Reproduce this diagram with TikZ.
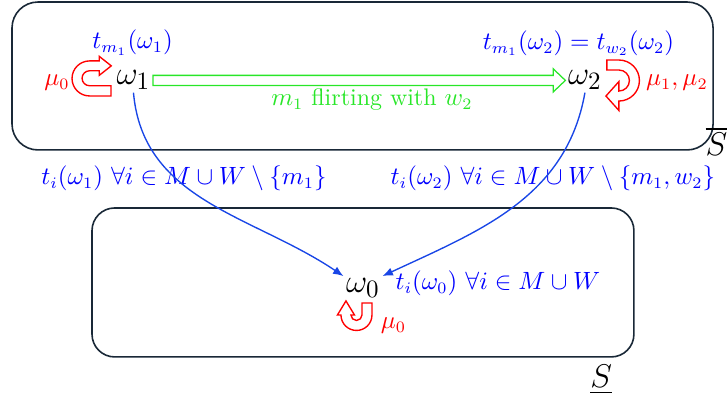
\documentclass[tikz,border=0pt]{standalone}
\usepackage{amsmath,amssymb}
\usetikzlibrary{arrows.meta,calc}
\definecolor{boxline}{RGB}{25,40,55}
\definecolor{linkblue}{RGB}{25,70,230}
\definecolor{flirtgreen}{RGB}{40,230,40}

\begin{document}
\begin{tikzpicture}[every node/.style={font=\fontsize{10.5}{12.6}\selectfont}, >={Latex[length=1.6mm, width=1.3mm]},
	state/.style={font=\fontsize{15.5}{18}\selectfont, inner sep=1pt, anchor=base},
	region/.style={draw=boxline, line width=0.7pt},
	tlabel/.style={blue, anchor=base},
	reach/.style={->, linkblue, semithick},
	flirt/.style={draw=flirtgreen, line width=0.55pt, line join=miter},
	loopy/.style={draw=red, line width=0.6pt, fill=white, line join=miter}]
	\useasboundingbox (0,0) rectangle (11.22,6.164);
	\draw[region, rounded corners=0.4cm] (0.185,3.853) rectangle (10.99,6.133);
	\draw[region, rounded corners=0.35cm] (1.418,0.663) rectangle (9.77,2.959);
	\node[font=\Large, anchor=base east, inner sep=0pt] (sbar) at (11.215,3.76) {$\overline{S}$};
	\node[font=\Large, anchor=base west, inner sep=0pt] (sunder) at (9.09,0.185) {$\underline{S}$};
	\node[state] (w1) at (2.057,4.854) {$\omega_1$};
	\node[state] (w2) at (9.015,4.854) {$\omega_2$};
	\node[state] (w0) at (5.594,1.649) {$\omega_0$};
	\node[tlabel] (t1) at (2.042,5.409) {$t_{m_1}(\omega_1)$};
	\node[tlabel] (t2) at (8.915,5.394) {$t_{m_1}(\omega_2) = t_{w_2}(\omega_2)$};
	\node[tlabel] (r1) at (2.835,3.313) {$t_i(\omega_1)\ \forall i \in M \cup W \setminus \{m_1\}$};
	\node[tlabel] (r2) at (8.522,3.313) {$t_i(\omega_2)\ \forall i \in M \cup W \setminus \{m_1, w_2\}$};
	\node[tlabel, anchor=base west, inner sep=0pt] (t0) at (6.09,1.695) {$t_i(\omega_0)\ \forall i \in M \cup W$};
	\node[flirtgreen, anchor=base] (fl) at (5.733,4.531) {$m_1$ flirting with $w_2$};
	\node[red, anchor=base] (mu1) at (0.878,4.839) {$\mu_0$};
	\node[red, anchor=base] (mu2) at (10.433,4.839) {$\mu_1, \mu_2$};
	\node[red, anchor=base] (mu0) at (6.064,1.094) {$\mu_0$};
	\draw[flirt] ($(w1.east)+(0,-2.2pt)$) -- ++(0,4.4pt) -- ($(w2.west)+(-5.3pt,2.2pt)$) -- ++(0,2.85pt) -- (w2.west) -- ++(-5.3pt,-5.05pt) -- ++(0,2.85pt) -- cycle;
	\draw[reach] (w1.south) to[out=-85, in=146] (w0.north west);
	\draw[reach] (w2.south) to[out=-100, in=25] (w0.north east);
	\draw[loopy] (1.71,4.685) -- ++(-0.33,0) arc[start angle=270, end angle=90, radius=0.27] -- ++(0.15,0) -- ++(0,0.07) -- ++(0.185,-0.146) -- ++(-0.185,-0.146) -- ++(0,0.07) -- ++(-0.15,0) arc[start angle=90, end angle=270, radius=0.115] -- ++(0.33,0) -- cycle;
	\draw[loopy] (9.354,5.239) -- ++(0.185,0) arc[start angle=90, end angle=-90, radius=0.316] -- ++(0,-0.146) -- ++(-0.2,0.223) -- ++(0.2,0.223) -- ++(0,-0.146) arc[start angle=-90, end angle=90, radius=0.162] -- ++(-0.185,0) -- cycle;
	\draw[loopy] (5.733,1.495) -- ++(0,-0.185) arc[start angle=0, end angle=-180, radius=0.239] -- ++(-0.054,0) -- ++(0.131,0.216) -- ++(0.131,-0.216) -- ++(-0.054,0) arc[start angle=180, end angle=360, radius=0.085] -- ++(0,0.185) -- cycle;
\end{tikzpicture}
\end{document}
